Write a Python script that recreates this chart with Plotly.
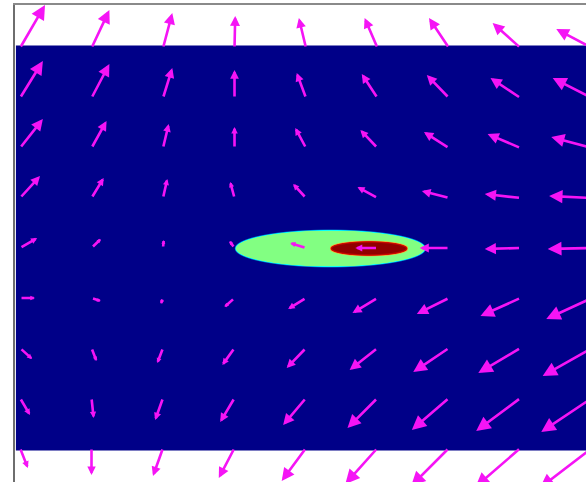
import numpy as np
import plotly.graph_objects as go

# ---- quiver grid (data units) ----
X_GRID = [0, 1, 2, 3, 4, 5, 6, 7, 8]
Y_GRID = [8, 7, 6, 5, 4, 3, 2, 1, 0]   # rows, top to bottom

U_ROWS = [
    [0.35, 0.25, 0.13, 0.01, -0.10, -0.18, -0.28, -0.39, -0.50],
    [0.32, 0.25, 0.13, 0.00, -0.13, -0.22, -0.31, -0.42, -0.55],
    [0.32, 0.21, 0.08, 0.00, -0.15, -0.24, -0.35, -0.46, -0.57],
    [0.28, 0.17, 0.06, -0.06, -0.18, -0.28, -0.38, -0.50, -0.60],
    [0.24, 0.13, 0.01, -0.07, -0.22, -0.31, -0.41, -0.50, -0.62],
    [0.21, 0.13, -0.03, -0.14, -0.25, -0.35, -0.45, -0.56, -0.64],
    [0.17, 0.07, -0.08, -0.17, -0.27, -0.39, -0.50, -0.59, -0.69],
    [0.14, 0.03, -0.11, -0.20, -0.32, -0.42, -0.52, -0.62, -0.71],
    [0.11, 0.00, -0.14, -0.22, -0.34, -0.45, -0.53, -0.63, -0.73],
]
V_ROWS = [
    [0.86, 0.76, 0.70, 0.64, 0.60, 0.60, 0.60, 0.50, 0.38],
    [0.74, 0.68, 0.60, 0.56, 0.50, 0.48, 0.46, 0.40, 0.40],
    [0.58, 0.54, 0.48, 0.42, 0.40, 0.36, 0.32, 0.28, 0.22],
    [0.44, 0.40, 0.38, 0.32, 0.28, 0.22, 0.14, 0.08, 0.04],
    [0.20, 0.18, 0.16, 0.14, 0.10, 0.00, 0.00, -0.02, -0.02],
    [0.00, -0.06, -0.12, -0.18, -0.22, -0.30, -0.32, -0.36, -0.42],
    [-0.22, -0.26, -0.30, -0.34, -0.40, -0.44, -0.48, -0.50, -0.56],
    [-0.34, -0.40, -0.44, -0.48, -0.54, -0.60, -0.64, -0.66, -0.68],
    [-0.40, -0.54, -0.56, -0.60, -0.66, -0.72, -0.76, -0.78, -0.80],
]

# ---- background field: two nested elliptical levels ----
FIELD_X_RANGE = [-0.05, 8.05]
FIELD_Y_RANGE = [-0.04, 8.04]
OUTER_CENTER = [4.34, 4.0]
OUTER_AXES = [1.33, 0.37]
OUTER_LEVEL = 0.5
INNER_CENTER = [4.88, 4.0]
INNER_AXES = [0.53, 0.135]
INNER_LEVEL = 1.0

COLORSCALE = [[0.0, "rgb(0,0,136)"], [0.125, "rgb(0,60,170)"], [0.375, "rgb(5,255,255)"],
              [0.5, "rgb(130,255,130)"], [0.6, "rgb(225,190,60)"], [0.72, "rgb(215,10,0)"],
              [1.0, "rgb(145,0,0)"]]

W, H = 586, 482
M = dict(l=15, r=0, t=5, b=0)
XR = [-0.07, 7.916]
YR = [-0.68, 8.86]
px_x = (W - M["l"] - M["r"]) / (XR[1] - XR[0])
px_y = (H - M["t"] - M["b"]) / (YR[1] - YR[0])

# sample the field at ~1 px resolution, with a soft (anti-aliased) edge
xs = np.arange(FIELD_X_RANGE[0], FIELD_X_RANGE[1] + 1e-9, 1.0 / px_x)
ys = np.arange(FIELD_Y_RANGE[0], FIELD_Y_RANGE[1] + 1e-9, 1.0 / px_y)
XX, YY = np.meshgrid(xs, ys)


def coverage(center, axes, soft):
    dx = (XX - center[0]) * px_x
    dy = (YY - center[1]) * px_y
    A = axes[0] * px_x
    B = axes[1] * px_y
    r = np.sqrt((dx / A) ** 2 + (dy / B) ** 2) + 1e-9
    g = np.sqrt((dx / A ** 2) ** 2 + (dy / B ** 2) ** 2) / r + 1e-9
    d = (r - 1) / g
    return np.clip(0.5 - d / soft, 0, 1)


Z = OUTER_LEVEL * coverage(OUTER_CENTER, OUTER_AXES, 1.8) + \
    (INNER_LEVEL - OUTER_LEVEL) * coverage(INNER_CENTER, INNER_AXES, 3.0)

fig = go.Figure()
fig.add_trace(go.Heatmap(x=xs, y=ys, z=Z, colorscale=COLORSCALE, zmin=0, zmax=1,
                         zsmooth=False, showscale=False, hoverinfo="skip"))

ARROW_COLOR = "#f514f5"
annotations = []
for j, yv in enumerate(Y_GRID):
    for i, xv in enumerate(X_GRID):
        u = U_ROWS[j][i]
        v = V_ROWS[j][i]
        L = np.hypot(u * px_x, v * px_y)
        size = float(np.clip(L * 0.024, 0.3, 1.1))
        annotations.append(dict(
            x=xv + u, y=yv + v, ax=xv, ay=yv,
            xref="x", yref="y", axref="x", ayref="y",
            text="", showarrow=True, arrowhead=2, arrowsize=size,
            arrowwidth=2.6, arrowcolor=ARROW_COLOR, standoff=0,
        ))

fig.update_layout(
    width=W, height=H, margin=M,
    paper_bgcolor="white", plot_bgcolor="white",
    showlegend=False, annotations=annotations,
    xaxis=dict(range=XR, showgrid=False, zeroline=False, showticklabels=False,
               ticks="", side="top", showline=True, linecolor="#8a8a8a", linewidth=2),
    yaxis=dict(range=YR, showgrid=False, zeroline=False, showticklabels=False,
               ticks="", showline=True, linecolor="#6e6e6e", linewidth=2),
)

fig.write_html(
    "out.html",
    config={"displayModeBar": False},
    post_script="document.body.style.margin='0';document.body.style.overflow='hidden';",
)
